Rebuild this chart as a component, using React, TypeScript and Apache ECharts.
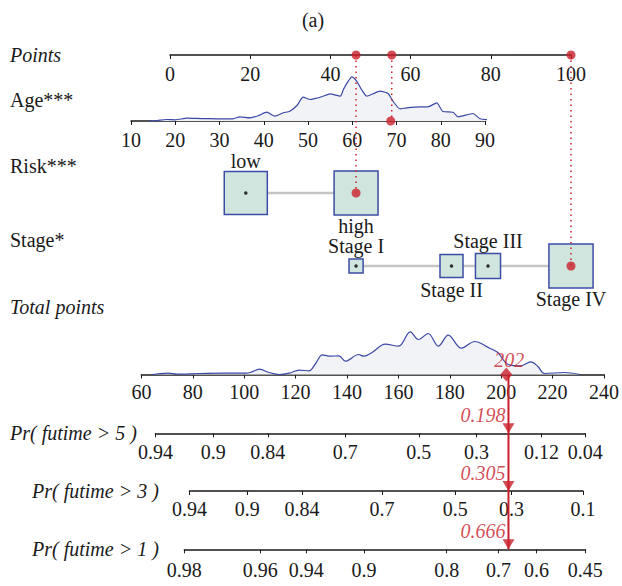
import React, { useEffect, useRef } from 'react';
import * as echarts from 'echarts';

// ---------------- data ----------------
const pointsMin = 0;
const pointsMax = 100;
const pointsStep = 20;

const ageMin = 10;
const ageMax = 90;
const ageStep = 10;

const totalMin = 60;
const totalMax = 240;
const totalStep = 20;

// Age density (age, height)
const ageDensityAge = [14, 15.9, 18, 20, 22.7, 26, 29.4, 33, 34.6, 36.9, 38.7, 40.7, 42.5, 44.4, 45.9, 47.5, 48.9, 50.5, 52, 53.4, 55, 57.3, 58, 59.1, 59.9, 61, 62.1, 63.3, 64.7, 66.3, 68.1, 69.2, 70.8, 72.3, 75.3, 77.1, 79.1, 80.5, 82.8, 83.9, 87.3, 88.9, 92.3, 93];
const ageDensityVal = [0, 0.5, 1.5, 1.2, 2.8, 2.4, 2.2, 2.2, 4.2, 3.2, 5.2, 8.8, 4.8, 8.2, 9.8, 15.5, 23.8, 21.5, 22.8, 24.8, 27.2, 24.8, 31.5, 39.8, 44.2, 39.8, 31.5, 24.8, 27.2, 29.8, 27.5, 19.8, 12.2, 13.2, 14.2, 14.2, 18.2, 9.5, 8.8, 4.2, 7.5, 2.2, 0.8, 0];

// Total points density (total points, height)
const totalDensityPts = [64, 65.9, 70.4, 73.7, 82.7, 91.6, 100.7, 102.7, 105.9, 109.7, 113.6, 117.5, 121.4, 125.2, 127.8, 130.4, 133, 136.9, 139.4, 144.5, 146.5, 149.7, 154.9, 160.1, 164.6, 167.8, 171.6, 175.5, 179.4, 184.5, 189.7, 195.5, 198.7, 202.6, 207.6, 211.5, 214.2, 216.8, 224.5, 230.8];
const totalDensityVal = [0, 0.5, 1.3, 0.3, 1, 1.3, 1.3, 2.3, 5.3, 2, 0, 1.3, 4.3, 3.7, 11, 19.7, 18.3, 18.7, 13.3, 20, 18.3, 22, 30.3, 28.3, 42.7, 35, 41, 28.3, 39.3, 26.3, 33, 26.3, 22, 10.3, 8.7, 12.7, 8.3, 1, 2, 0];

const riskLevels = ['low', 'high'];
const riskPoints = [18.9, 46.4];
const riskShare = [0.49, 0.51];

const stageLevels = ['Stage I', 'Stage II', 'Stage III', 'Stage IV'];
const stagePoints = [46.4, 70.2, 79.3, 100];
const stageShare = [0.06, 0.16, 0.19, 0.59];

// selected observation
const selAge = 68.7;
const selAgePoints = 55.3;
const selRisk = 1;
const selStage = 3;
const selTotal = 202;
const selProbs = ['0.198', '0.305', '0.666'];

// probability scales: tick labels and their total-points positions
const pr5Labels = ['0.94', '0.9', '0.84', '0.7', '0.5', '0.3', '0.12', '0.04'];
const pr5At = [65.45, 87.8, 108.9, 138.9, 167.3, 189.6, 214.8, 231.7];
const pr3Labels = ['0.94', '0.9', '0.84', '0.7', '0.5', '0.3', '0.1'];
const pr3At = [78.6, 100.9, 122.1, 153.1, 181.4, 203.2, 230.8];
const pr1Labels = ['0.98', '0.96', '0.94', '0.9', '0.8', '0.7', '0.6', '0.45'];
const pr1At = [76.6, 106, 123.8, 146.1, 178.1, 198.1, 212.8, 231.7];

const prNames = ['Pr( futime > 5 )', 'Pr( futime > 3 )', 'Pr( futime > 1 )'];

// ---------------- layout & style ----------------
const FONT = 'Liberation Serif, DejaVu Serif, serif';
const INK = '#1a1a1a';
const RED = '#c9202b';
const BLUE = '#3b48a5';
const FILL = '#f2f3f7';
const BOX = '#cfe5de';
const BOX_EDGE = '#3d4ca6';

const ROW = { points: 55, age: 121, risk: 193, stage: 266, total: 374.5, pr: [433.3, 491, 549.3] };
const PTS_LEFT = 170;
const PTS_W = 401;
const AGE_LEFT = 131;
const AGE_W = 354;
const TOT_LEFT = 141.4;
const TOT_PER = 2.585;
const ROWS_H = 245;

function valueAxis(gridIndex: number, min: number, max: number, interval: number, margin: number) {
  return {
    type: 'value', gridIndex, min, max, interval,
    axisLine: { show: true, onZero: false, lineStyle: { color: INK, width: 1.5 } },
    axisTick: { show: true, length: 4, lineStyle: { color: INK, width: 1 } },
    axisLabel: { fontFamily: FONT, fontSize: 20, color: INK, margin },
    splitLine: { show: false },
  };
}

function hiddenAxis(gridIndex: number, min: number, max: number, inverse = false) {
  return { type: 'value', gridIndex, min, max, inverse, show: false, splitLine: { show: false } };
}

function buildOption() {
  const prSets = [
    { labels: pr5Labels, at: pr5At, margin: 9 },
    { labels: pr3Labels, at: pr3At, margin: 8 },
    { labels: pr1Labels, at: pr1At, margin: 11 },
  ];

  const grids: any[] = [
    { left: PTS_LEFT, top: ROW.points - 40, width: PTS_W, height: 40 }, // 0 points axis
    { left: PTS_LEFT, top: ROW.points, width: PTS_W, height: ROWS_H }, // 1 rows overlay
    { left: AGE_LEFT, top: ROW.age - 50, width: AGE_W, height: 50 }, // 2 age
    { left: TOT_LEFT, top: ROW.total - 60, width: (totalMax - totalMin) * TOT_PER, height: 60 }, // 3 total
    { left: TOT_LEFT, top: ROW.total, width: (totalMax - totalMin) * TOT_PER, height: ROW.pr[2] - ROW.total }, // 4 pr overlay
  ];
  prSets.forEach((s, i) => {
    const a = s.at[0];
    const b = s.at[s.at.length - 1];
    grids.push({ left: TOT_LEFT + (a - totalMin) * TOT_PER, top: ROW.pr[i] - 10, width: (b - a) * TOT_PER, height: 10 });
  });

  const xAxes: any[] = [
    valueAxis(0, pointsMin, pointsMax, pointsStep, 9),
    hiddenAxis(1, pointsMin, pointsMax),
    valueAxis(2, ageMin, ageMax, ageStep, 9),
    valueAxis(3, totalMin, totalMax, totalStep, 7),
    hiddenAxis(4, totalMin, totalMax),
  ];
  prSets.forEach((s, i) => {
    const ax: any = valueAxis(5 + i, s.at[0], s.at[s.at.length - 1], 0, s.margin);
    delete ax.interval;
    ax.axisTick = { ...ax.axisTick, customValues: s.at };
    ax.axisLabel = {
      ...ax.axisLabel,
      customValues: s.at,
      showMinLabel: true,
      showMaxLabel: true,
      formatter: (v: number) => {
        let best = 0;
        s.at.forEach((p, k) => { if (Math.abs(p - v) < Math.abs(s.at[best] - v)) best = k; });
        return s.labels[best];
      },
    };
    xAxes.push(ax);
  });

  const yAxes: any[] = [
    hiddenAxis(0, 0, 1),
    hiddenAxis(1, 0, ROWS_H, true),
    hiddenAxis(2, 0, 50),
    hiddenAxis(3, 0, 60),
    hiddenAxis(4, 0, ROW.pr[2] - ROW.total, true),
    hiddenAxis(5, 0, 1),
    hiddenAxis(6, 0, 1),
    hiddenAxis(7, 0, 1),
  ];

  const ry = ROW.risk - ROW.points;
  const sy = ROW.stage - ROW.points;
  const riskSide = riskShare.map((s) => 61.5 * Math.sqrt(s));
  const stageSide = stageShare.map((s) => 57.5 * Math.sqrt(s));
  const labelStyle = { fontFamily: FONT, fontSize: 20, color: INK };

  const boxItems = (levels: string[], pts: number[], sides: number[], y: number) =>
    levels.map((name, i) => ({
      name,
      value: [pts[i], y],
      symbolSize: [sides[i], sides[i]],
      label: {
        show: true,
        formatter: name,
        position: i % 2 === 0 ? 'top' : 'bottom',
        distance: (44 - sides[i]) * 0.09,
        ...labelStyle,
      },
    }));

  const dotted = (x: number, y: number) => ({
    type: 'line', xAxisIndex: 1, yAxisIndex: 1, z: 5, symbol: 'none', silent: true,
    data: [[x, 0], [x, y]],
    lineStyle: { color: RED, width: 1.5, type: [1.5, 4] },
  });

  const prOverlayY = ROW.pr.map((y) => y - ROW.total);

  const series: any[] = [
    {
      type: 'line', xAxisIndex: 2, yAxisIndex: 2, z: 2, symbol: 'none', smooth: 0.2, clip: false,
      data: ageDensityAge.map((a, i) => [a, ageDensityVal[i]]),
      lineStyle: { color: BLUE, width: 1.2 }, areaStyle: { color: FILL, opacity: 1 },
    },
    {
      type: 'line', xAxisIndex: 3, yAxisIndex: 3, z: 2, symbol: 'none', smooth: 0.35, clip: false,
      data: totalDensityPts.map((a, i) => [a, totalDensityVal[i]]),
      lineStyle: { color: BLUE, width: 1.2 }, areaStyle: { color: FILL, opacity: 1 },
    },
    {
      type: 'line', xAxisIndex: 1, yAxisIndex: 1, z: 2, symbol: 'none',
      data: [[riskPoints[0], ry], [riskPoints[riskPoints.length - 1], ry]],
      lineStyle: { color: '#c5c5c5', width: 2.5 },
    },
    {
      type: 'line', xAxisIndex: 1, yAxisIndex: 1, z: 2, symbol: 'none',
      data: [[stagePoints[0], sy], [stagePoints[stagePoints.length - 1], sy]],
      lineStyle: { color: '#c5c5c5', width: 2.5 },
    },
    {
      type: 'scatter', xAxisIndex: 1, yAxisIndex: 1, z: 3, symbol: 'rect', clip: false,
      itemStyle: { color: BOX, borderColor: BOX_EDGE, borderWidth: 1.5, opacity: 1 },
      data: [...boxItems(riskLevels, riskPoints, riskSide, ry), ...boxItems(stageLevels, stagePoints, stageSide, sy)],
    },
    {
      type: 'scatter', xAxisIndex: 1, yAxisIndex: 1, z: 4, symbol: 'circle', symbolSize: 3.5, clip: false,
      itemStyle: { color: '#000' },
      data: [
        ...riskPoints.map((p, i) => (i === selRisk ? null : [p, ry])).filter(Boolean),
        ...stagePoints.map((p, i) => (i === selStage ? null : [p, sy])).filter(Boolean),
      ],
    },
    dotted(riskPoints[selRisk], ry),
    dotted(selAgePoints, ROW.age - ROW.points),
    dotted(stagePoints[selStage], sy),
    {
      type: 'scatter', xAxisIndex: 1, yAxisIndex: 1, z: 6, symbol: 'circle', symbolSize: 9, clip: false,
      itemStyle: { color: RED },
      data: [
        [riskPoints[selRisk], 0], [selAgePoints, 0], [stagePoints[selStage], 0],
        [riskPoints[selRisk], ry], [stagePoints[selStage], sy],
      ],
    },
    {
      type: 'scatter', xAxisIndex: 2, yAxisIndex: 2, z: 6, symbol: 'circle', symbolSize: 9, clip: false,
      itemStyle: { color: RED }, data: [[selAge, 0]],
    },
    {
      type: 'line', xAxisIndex: 4, yAxisIndex: 4, z: 5, symbol: 'none',
      data: [[selTotal, 0], [selTotal, prOverlayY[2]]],
      lineStyle: { color: RED, width: 2 },
    },
    {
      type: 'scatter', xAxisIndex: 3, yAxisIndex: 3, z: 6, symbol: 'diamond', symbolSize: [12, 14], clip: false,
      itemStyle: { color: RED },
      data: [[selTotal, 0]],
      label: {
        show: true, position: 'top', distance: 0, offset: [3, 2], formatter: String(selTotal),
        fontFamily: FONT, fontSize: 20, fontStyle: 'italic', color: RED,
      },
    },
    {
      type: 'scatter', xAxisIndex: 4, yAxisIndex: 4, z: 6, symbol: 'path://M0,0L10,0L5,8Z',
      symbolSize: [12, 10], symbolOffset: [0, -5], clip: false,
      itemStyle: { color: RED },
      data: prOverlayY.map((y, i) => ({ value: [selTotal, y], name: selProbs[i] })),
      label: {
        show: true, position: 'top', distance: 0, align: 'right', offset: [-3, 2],
        formatter: (p: any) => p.name,
        fontFamily: FONT, fontSize: 20, fontStyle: 'italic', color: RED,
      },
    },
  ];

  const txt = (text: string, x: number, y: number, italic = false, align = 'left') => ({
    type: 'text', x, y, silent: true,
    style: {
      text, fill: INK, fontFamily: FONT, fontSize: 20, fontStyle: italic ? 'italic' : 'normal',
      align, textAlign: align, verticalAlign: 'middle', textVerticalAlign: 'middle',
    },
  });

  const graphic = [
    txt('(a)', 313, 20, false, 'center'),
    txt('Points', 10, ROW.points, true),
    txt('Age***', 10, 100),
    txt('Risk***', 10, 166),
    txt('Stage*', 10, 240),
    txt('Total points', 10, 307, true),
    txt(prNames[0], 10, ROW.pr[0], true),
    txt(prNames[1], 32, ROW.pr[1], true),
    txt(prNames[2], 32, ROW.pr[2], true),
  ];

  return {
    animation: false,
    backgroundColor: '#ffffff',
    grid: grids,
    xAxis: xAxes,
    yAxis: yAxes,
    series,
    graphic,
  };
}

export default function App() {
  const ref = useRef<HTMLDivElement>(null);
  useEffect(() => {
    document.body.style.margin = '0';
    if (!ref.current) return;
    const chart = echarts.init(ref.current, undefined, { renderer: 'svg' });
    chart.setOption(buildOption() as any);
    return () => chart.dispose();
  }, []);
  return <div ref={ref} style={{ width: 622, height: 586 }} />;
}
